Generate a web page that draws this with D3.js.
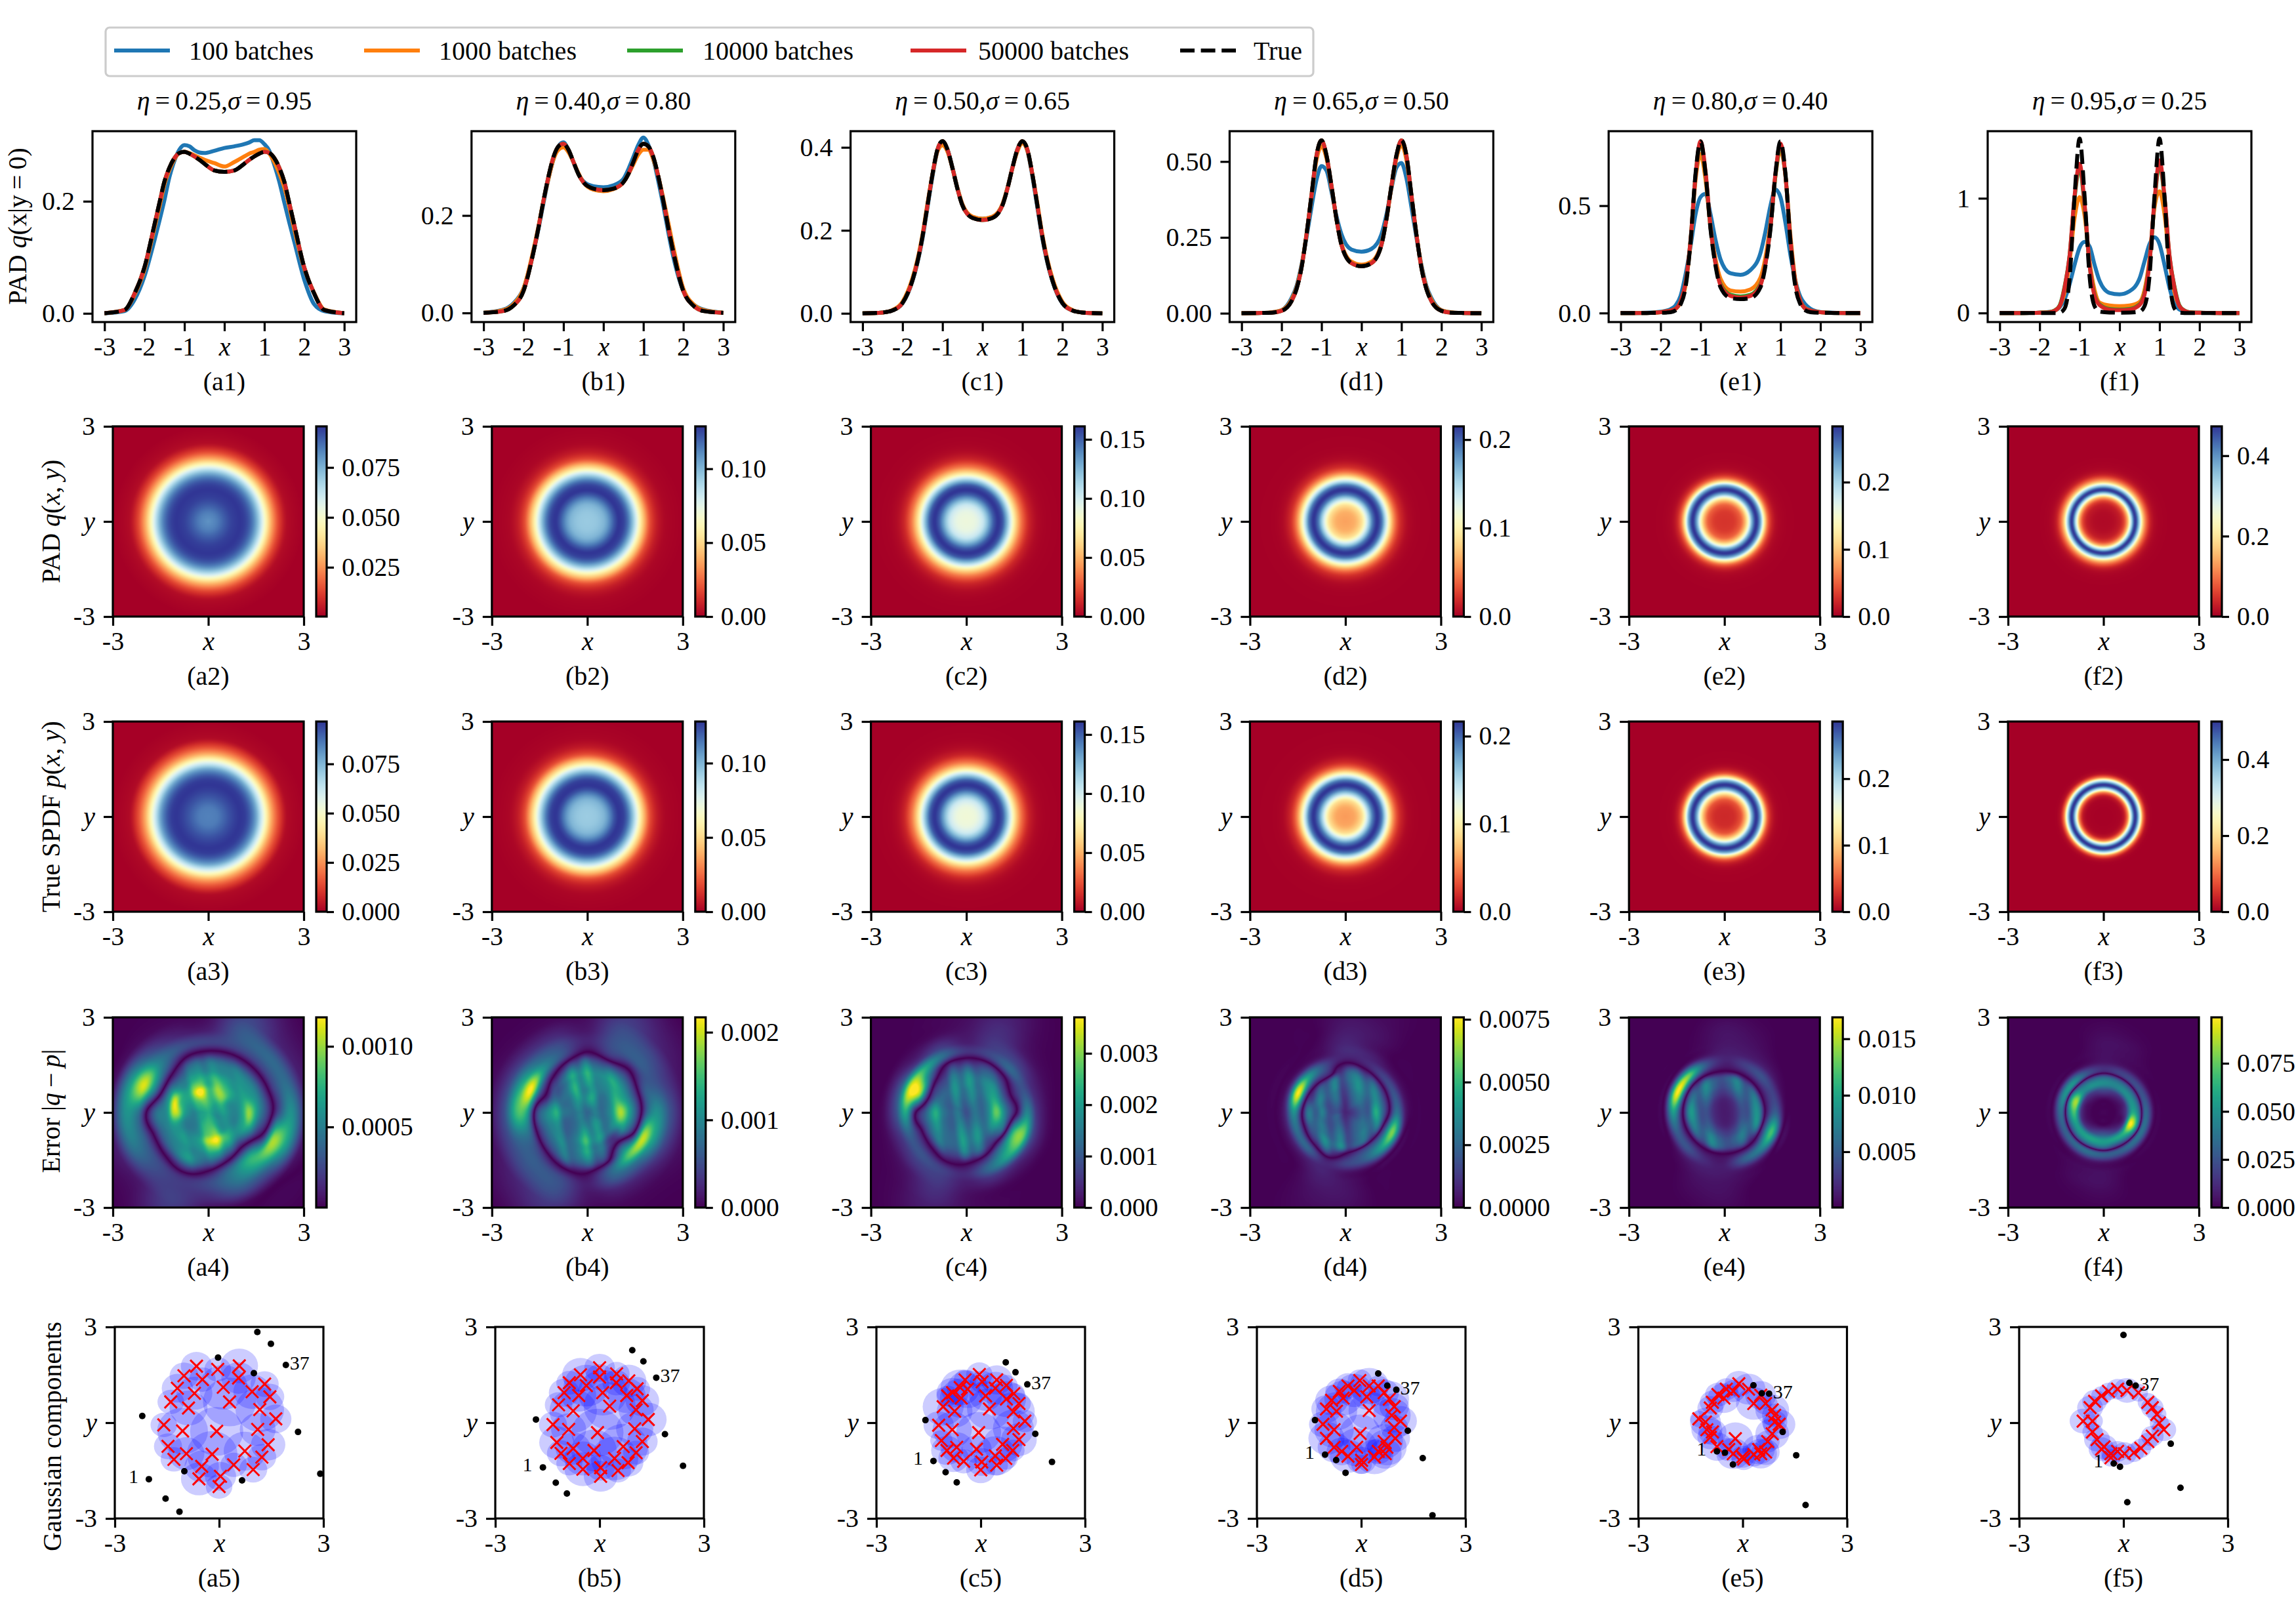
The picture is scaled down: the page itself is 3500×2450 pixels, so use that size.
<!DOCTYPE html>
<html>
<head>
<meta charset="utf-8">
<script src="https://cdn.jsdelivr.net/npm/d3@7"></script>
<style>
  body { margin: 0; background: #fff; }
  text { font-family: "Liberation Serif", serif; font-size: 40px; fill: #000; }
  .it { font-style: italic; }
</style>
</head>
<body>
<svg id="fig" width="3500" height="2450" xmlns="http://www.w3.org/2000/svg"></svg>
<script>
// values
const letters = ["a", "b", "c", "d", "e", "f"];
const etas = ["0.25", "0.40", "0.50", "0.65", "0.80", "0.95"];
const sigmas = ["0.95", "0.80", "0.65", "0.50", "0.40", "0.25"];
const legendNames = ["100 batches", "1000 batches", "10000 batches", "50000 batches", "True"];

// row 1: q(x|y=0) sampled at these x
const xs = [-3,-2.5,-2.25,-2,-1.75,-1.625,-1.5,-1.375,-1.25,-1.125,-1,-.875,-.75,-.625,-.5,-.25,0,.25,.5,.625,.75,.875,1,1.125,1.25,1.375,1.5,1.625,1.75,2,2.25,2.5,3];

const trueA = [.0003,.006,.035,.082,.158,.197,.235,.26,.277,.286,.288,.285,.28,.274,.267,.255,.2525,.255,.267,.274,.28,.285,.288,.286,.277,.26,.235,.197,.158,.082,.035,.006,.0003];
const trueB = [.0003,.004,.015,.045,.125,.175,.23,.28,.32,.342,.347,.335,.31,.285,.268,.255,.252,.255,.268,.285,.31,.335,.347,.342,.32,.28,.23,.175,.125,.045,.015,.004,.0003];
const trueC = [0,.002,.007,.025,.08,.125,.185,.26,.335,.395,.415,.395,.35,.3,.26,.23,.225,.23,.26,.3,.35,.395,.415,.395,.335,.26,.185,.125,.08,.025,.007,.002,0];
const trueD = [0,.001,.002,.008,.04,.08,.15,.26,.39,.52,.57,.52,.42,.31,.225,.165,.155,.165,.225,.31,.42,.52,.57,.52,.39,.26,.15,.08,.04,.008,.002,.001,0];
const trueE = [0,0,.0005,.001,.004,.012,.04,.12,.33,.65,.8,.65,.39,.22,.12,.07,.065,.07,.12,.22,.39,.65,.8,.65,.33,.12,.04,.012,.004,.001,.0005,0,0];
const trueF = [0,0,0,0,0,0,.003,.04,.3,1.02,1.52,1.02,.32,.06,.012,.004,.003,.004,.012,.06,.32,1.02,1.52,1.02,.3,.04,.003,0,0,0,0,0,0];

const blue100 = [
  [0,.004,.024,.066,.13,.165,.202,.243,.272,.292,.3,.298,.291,.287,.286,.29,.295,.298,.302,.305,.309,.309,.302,.29,.265,.235,.198,.162,.128,.06,.016,.004,0],
  [.0005,.007,.02,.05,.125,.172,.225,.275,.315,.342,.35,.335,.31,.285,.27,.26,.258,.262,.275,.295,.32,.345,.36,.345,.315,.27,.22,.165,.115,.045,.018,.007,.0005],
  [0,.002,.007,.024,.078,.122,.18,.255,.33,.392,.412,.395,.352,.302,.262,.232,.228,.232,.262,.302,.352,.395,.414,.392,.33,.255,.18,.122,.078,.024,.007,.002,0],
  [0,.001,.003,.01,.05,.09,.16,.25,.35,.44,.485,.47,.4,.32,.26,.21,.203,.212,.26,.325,.41,.48,.495,.445,.35,.25,.16,.09,.05,.01,.003,.001,0],
  [0,.0005,.002,.006,.018,.035,.08,.18,.31,.46,.54,.555,.46,.34,.25,.185,.178,.2,.28,.38,.5,.575,.54,.42,.27,.15,.075,.04,.02,.005,.002,.0005,0],
  [0,0,.001,.003,.01,.02,.05,.12,.25,.42,.57,.62,.58,.42,.28,.175,.163,.19,.3,.45,.6,.66,.6,.42,.22,.08,.03,.012,.005,.002,.001,0,0]
];
const orange1000 = [
  [.0003,.006,.033,.078,.152,.19,.23,.256,.275,.286,.288,.286,.282,.278,.274,.268,.262,.27,.28,.285,.288,.292,.293,.285,.27,.25,.225,.19,.15,.08,.036,.007,.0003],
  [.0005,.006,.018,.05,.13,.178,.23,.275,.315,.335,.34,.33,.31,.287,.268,.253,.25,.254,.268,.285,.305,.325,.335,.335,.315,.28,.235,.185,.135,.05,.018,.006,.0005],
  [0,.002,.008,.028,.085,.13,.19,.265,.335,.39,.405,.39,.35,.302,.263,.233,.228,.233,.263,.302,.35,.39,.41,.392,.335,.265,.19,.13,.085,.028,.008,.002,0],
  [0,.001,.003,.01,.045,.085,.155,.26,.385,.505,.55,.51,.415,.31,.23,.17,.16,.17,.23,.31,.415,.51,.555,.505,.385,.26,.155,.085,.045,.01,.003,.001,0],
  [0,.0005,.001,.004,.012,.02,.05,.13,.33,.62,.74,.62,.4,.25,.16,.105,.1,.11,.165,.26,.42,.64,.76,.64,.36,.15,.055,.022,.012,.004,.001,.0005,0],
  [0,0,.001,.003,.008,.02,.06,.18,.45,.83,1.01,.85,.45,.2,.09,.065,.06,.065,.095,.2,.47,.92,1.06,.86,.46,.18,.06,.018,.006,.002,.001,0,0]
];
const green10000 = [
  trueA, trueB, trueC, trueD,
  [0,.0003,.001,.004,.012,.02,.055,.14,.34,.64,.79,.65,.4,.23,.135,.085,.077,.085,.135,.23,.4,.64,.78,.64,.34,.14,.055,.02,.012,.004,.001,.0003,0],
  [0,0,.0005,.002,.007,.022,.065,.23,.5,1,1.27,.93,.42,.16,.075,.035,.03,.035,.075,.17,.44,.96,1.3,1,.5,.23,.065,.022,.007,.002,.0005,0,0]
];
const red50000 = [
  trueA, trueB, trueC, trueD,
  [0,.0003,.001,.004,.012,.02,.055,.14,.34,.64,.8,.66,.4,.23,.13,.08,.072,.08,.13,.23,.4,.65,.79,.64,.34,.14,.055,.02,.012,.004,.001,.0003,0],
  [0,0,.0005,.002,.006,.02,.06,.22,.5,1.02,1.3,.95,.42,.15,.07,.03,.025,.03,.07,.16,.44,.98,1.33,1.02,.5,.22,.06,.02,.006,.002,.0005,0,0]
];
const trueCurves = [trueA, trueB, trueC, trueD, trueE, trueF];

const yLimits1 = [[-.0155,.325],[-.0187,.373],[-.021,.439],[-.029,.6],[-.042,.847],[-.079,1.585]];
const yTicks1 = [["0.0","0.2"],["0.0","0.2"],["0.0","0.2","0.4"],["0.00","0.25","0.50"],["0.0","0.5"],["0","1"]];

// rows 2 and 3: density against radius, the fields are round
const radii = [0,.25,.5,.625,.75,.875,1,1.125,1.25,1.375,1.5,1.625,1.75,2,2.25,2.5,3];
const padRadial = [
  [.081,.084,.0895,.092,.094,.095,.0956,.0945,.0915,.086,.0775,.066,.0525,.0275,.011,.0025,.0002],
  [.094,.095,.0995,.1055,.1145,.1235,.1287,.1265,.1185,.104,.0855,.065,.0465,.017,.0057,.0016,.0001],
  [.089,.091,.102,.117,.136,.153,.161,.154,.131,.102,.073,.05,.032,.0105,.003,.0009,0],
  [.061,.065,.087,.118,.158,.197,.215,.197,.15,.101,.06,.033,.017,.004,.001,.0004,0],
  [.029,.031,.049,.083,.145,.232,.283,.232,.125,.052,.02,.007,.003,.0007,.0002,0,0],
  [.009,.011,.025,.055,.14,.32,.47,.34,.165,.075,.025,.008,.003,.0005,.0001,0,0]
];
const trueRadial = [
  [.0846,.0854,.0894,.0918,.0938,.0955,.0965,.0958,.0928,.0871,.0787,.066,.0529,.0275,.0117,.002,.0001],
  [.093,.0941,.0989,.1052,.1144,.1236,.128,.1262,.1181,.1033,.0849,.0646,.0461,.0166,.0055,.0015,.0001],
  [.0873,.0892,.1009,.1164,.1358,.1533,.161,.1533,.13,.1009,.0718,.0485,.031,.0097,.0027,.0008,0],
  [.059,.0627,.0855,.1178,.1596,.1976,.2167,.1976,.1482,.0988,.057,.0304,.0152,.003,.0008,.0004,0],
  [.0232,.025,.0429,.0787,.1394,.2324,.286,.2324,.118,.0429,.0143,.0043,.0014,.0004,.0001,0,0],
  [.001,.0013,.004,.02,.105,.336,.5,.336,.099,.013,.001,0,0,0,0,0,0]
];
const padRange = [[.0003,.0956],[0,.1287],[0,.161],[0,.215],[0,.283],[0,.473]];
const trueRange = [[0,.0965],[0,.128],[0,.161],[0,.2167],[0,.286],[0,.5]];
const padTicks = [["0.025","0.050","0.075"],["0.00","0.05","0.10"],["0.00","0.05","0.10","0.15"],["0.0","0.1","0.2"],["0.0","0.1","0.2"],["0.0","0.2","0.4"]];
const trueTicks = [["0.000","0.025","0.050","0.075"],["0.00","0.05","0.10"],["0.00","0.05","0.10","0.15"],["0.0","0.1","0.2"],["0.0","0.1","0.2"],["0.0","0.2","0.4"]];

// row 4: signed q-p, percent of the colour bar top, rows by radius, columns by angle (22.5 deg steps ccw from +x)
const errRadii = [0,.4,.7,.9,1.1,1.3,1.6,1.9,2.2,2.6,3.1,4.3];
const errorA = [
  [58,58,58,58,58,58,58,58,58,58,58,58,58,58,58,58],
  [55,60,66,72,72,75,66,58,50,50,52,60,66,64,58,52],
  [48,52,78,82,78,100,74,64,60,46,46,58,72,78,52,46],
  [48,52,68,76,68,78,68,72,78,46,48,62,86,96,58,46],
  [64,55,55,64,64,60,55,86,82,50,50,56,72,78,52,58],
  [80,55,50,50,50,48,42,50,48,45,45,48,55,50,30,60],
  [45,45,42,40,38,30,6,0,38,30,36,48,30,6,-12,22],
  [15,13,10,8,4,-3,-32,-55,6,-5,2,15,-5,-35,-60,-12],
  [-22,-20,-20,-20,-20,-25,-45,-95,-38,-32,-22,-14,-22,-42,-65,-85],
  [-50,-35,-33,-28,-8,-10,-25,-55,-50,-40,-22,-18,-15,-28,-30,-60],
  [-8,-8,-10,-22,-3,-2,-3,-4,-6,-8,-6,-18,-3,-2,-1,-6],
  [0,0,0,-3,0,0,0,0,0,0,0,-3,0,0,0,0]
];
const errorB = [
  [38,38,38,38,38,38,38,38,38,38,38,38,38,38,38,38],
  [38,38,42,50,55,50,42,38,35,35,35,38,45,50,45,38],
  [50,45,42,50,45,55,42,38,45,35,35,42,55,50,42,45],
  [65,55,48,50,50,55,42,42,52,38,35,45,60,50,42,55],
  [75,55,50,52,55,50,35,30,48,40,38,42,52,38,20,48],
  [58,48,50,50,55,48,28,12,42,38,38,40,50,32,6,38],
  [18,18,28,22,35,16,-8,-25,16,15,22,32,32,12,-42,0],
  [-35,-24,-3,-14,1,-22,-50,-100,-60,-30,-12,1,1,-30,-75,-88],
  [-50,-28,-28,-25,-10,-25,-38,-65,-70,-35,-28,-22,-8,-30,-38,-60],
  [-25,-18,-25,-25,-6,-12,-15,-22,-25,-22,-25,-25,-6,-10,-12,-22],
  [-4,-5,-10,-18,-3,-2,-2,-3,-4,-5,-10,-16,-3,-2,-2,-4],
  [0,0,0,-2,0,0,0,0,0,0,0,-2,0,0,0,0]
];
const errorC = [
  [30,30,30,30,30,30,30,30,30,30,30,30,30,30,30,30],
  [38,38,38,40,40,38,38,35,38,38,38,40,40,40,38,38],
  [45,42,42,45,45,45,42,40,45,40,40,45,48,48,45,45],
  [60,50,45,45,50,45,42,40,50,42,40,45,50,48,42,50],
  [50,40,42,45,48,40,30,22,42,38,36,42,46,40,26,38],
  [30,22,30,34,38,30,10,-8,26,26,28,30,36,26,4,18],
  [-4,-10,6,14,12,6,-35,-90,-2,-10,-4,6,2,-15,-45,-65],
  [-45,-25,-32,-20,-15,-35,-65,-100,-60,-30,-25,-18,-12,-35,-60,-80],
  [-15,-12,-20,-18,-8,-18,-15,-30,-25,-15,-18,-18,-8,-15,-15,-22],
  [-2,-3,-6,-14,-5,-3,-2,-3,-3,-3,-6,-14,-4,-2,-2,-3],
  [0,0,-2,-10,-3,-1,0,0,0,0,-2,-9,-3,-1,0,0],
  [0,0,0,-1,0,0,0,0,0,0,0,-1,0,0,0,0]
];
const errorD = [
  [18,18,18,18,18,18,18,18,18,18,18,18,18,18,18,18],
  [22,25,32,30,25,30,28,25,25,30,28,28,30,32,30,24],
  [30,30,35,38,32,35,35,30,35,28,30,35,38,35,32,32],
  [50,38,40,42,38,40,35,35,30,35,32,38,40,35,35,40],
  [38,35,38,40,42,32,24,24,42,34,38,42,40,30,24,32],
  [12,18,22,26,32,-9,-9,-3,12,10,18,26,0,-18,-22,-15],
  [-38,-25,-18,-8,-3,-22,-55,-100,-50,-35,-30,-8,-20,-30,-55,-80],
  [-6,-5,-5,-10,-12,-5,-8,-15,-10,-8,-8,-10,-5,-3,-3,-6],
  [0,0,0,-5,-10,-2,0,0,0,0,-1,-8,-5,0,0,0],
  [0,0,0,-5,-7,0,0,0,0,0,0,-5,-5,0,0,0],
  [0,0,0,-3,-4,0,0,0,0,0,0,-3,-3,0,0,0],
  [0,0,0,0,0,0,0,0,0,0,0,0,0,0,0,0]
];
const errorE = [
  [12,12,12,12,12,12,12,12,12,12,12,12,12,12,12,12],
  [15,15,15,15,15,15,15,15,15,15,15,15,15,15,15,15],
  [28,28,28,30,30,30,30,28,28,28,28,30,32,30,28,28],
  [42,38,35,38,38,40,38,35,40,38,38,40,42,40,35,42],
  [40,35,30,35,38,35,35,35,45,35,30,35,38,30,25,40],
  [-5,-3,-1,1,1,0,2,0,1,0,-1,1,1,-1,-3,-15],
  [-30,-20,-25,-18,-10,-30,-80,-100,-55,-30,-25,-12,-8,-30,-45,-70],
  [-2,-4,-8,-8,-8,-5,-8,-8,-3,-2,-6,-8,-7,-6,-5,-2],
  [0,0,-2,-5,-6,-2,0,0,0,0,-1,-5,-5,-2,0,0],
  [0,0,0,-3,-5,-1,0,0,0,0,0,-3,-4,0,0,0],
  [0,0,0,-1,-2,0,0,0,0,0,0,-1,-2,0,0,0],
  [0,0,0,0,0,0,0,0,0,0,0,0,0,0,0,0]
];
const errorF = [
  [1,1,1,1,1,1,1,1,1,1,1,1,1,1,1,1],
  [1,1,1,1,1,1,1,1,1,1,1,1,1,1,1,1],
  [15,12,14,18,22,18,15,15,14,12,16,24,28,22,15,14],
  [60,50,48,45,48,50,50,85,70,55,55,58,55,58,65,100],
  [40,32,30,32,35,30,30,55,40,30,32,32,35,25,35,60],
  [-32,-25,-22,-18,-12,-25,-50,-48,-35,-30,-32,-35,-30,-30,-35,-35],
  [-2,-2,-3,-4,-5,-3,-4,-3,-2,-2,-3,-5,-4,-3,-2,-2],
  [0,0,-1,-3,-4,-1,0,0,0,0,-1,-3,-4,-1,0,0],
  [0,0,0,-3,-4,0,0,0,0,0,0,-3,-4,0,0,0],
  [0,0,0,-1,-2,0,0,0,0,0,0,-1,-2,0,0,0],
  [0,0,0,0,0,0,0,0,0,0,0,0,0,0,0,0],
  [0,0,0,0,0,0,0,0,0,0,0,0,0,0,0,0]
];
const errorGrids = [errorA, errorB, errorC, errorD, errorE, errorF];
const errRange = [[0,.00118],[0,.00217],[0,.0037],[0,.00758],[.00006,.0169],[0,.0989]];
const errTicks = [["0.0005","0.0010"],["0.000","0.001","0.002"],["0.000","0.001","0.002","0.003"],["0.0000","0.0025","0.0050","0.0075"],["0.005","0.010","0.015"],["0.000","0.025","0.050","0.075"]];

// vertical stripes inside the contour, relative strength along x
const stripeXs = [-2,-1.75,-1.5,-1.25,-1,-.75,-.5,-.25,0,.25,.5,.75,1,1.25,1.5,1.75,2];
const stripes = [
  [1,1,1,1.05,1.1,.9,.85,1.05,1.05,.88,1.05,.95,.95,1.05,1,1,1],
  [1,1,1,1.05,1.25,.85,.95,1.2,.85,1.15,.85,.95,1.2,1.05,1,1,1],
  [1,1,1,1.05,1.3,.9,.75,1.15,.8,1.1,.8,1.1,1.3,1.05,1,1,1],
  [1,1,1,1.2,.85,1.25,.8,1.15,.55,.9,1.2,.85,1.3,1,1,1,1],
  [1,1,1,1,1.15,.8,1.2,.8,.6,.8,1.2,.8,1.15,1,1,1,1],
  [1,1,1,1,1,1,1,1,1,1,1,1,1,1,1,1,1]
];
const stripeTilt = [.26,.2,.15,.1,.1,0];

// row 5: component means. crosses carry weight, dots do not. first dot is no. 1, second no. 37
const dotsA = [[-2.02,-1.77],[1.92,1.81],[1.1,2.84],[1.49,2.47],[-.03,2.04],[1,1.55],[-2.21,.21],[2.27,-.29],[2.91,-1.6],[-1,-1.52],[.66,-1.81],[-1.54,-2.38],[-1.14,-2.79]];
const dotsB = [[-1.63,-1.4],[1.63,1.41],[.94,2.27],[1.26,1.92],[-1.83,.1],[1.88,-.36],[2.4,-1.35],[-1.26,-1.88],[-.94,-2.22]];
const dotsC = [[-1.36,-1.2],[1.34,1.2],[.72,1.89],[1,1.58],[-1.59,.08],[1.57,-.35],[2.05,-1.23],[-1.01,-1.55],[-.69,-1.87]];
const dotsD = [[-1.04,-1],[1.01,1.03],[.49,1.54],[.75,1.16],[-1.33,.08],[1.34,-.25],[1.77,-1.11],[-.72,-1.17],[-.45,-1.57],[2.05,-2.9]];
const dotsE = [[-.74,-.9],[.76,.91],[.31,1.17],[.55,.92],[1.15,-.29],[1.54,-1.02],[1.81,-2.58],[-.51,-.94],[-.28,-1.31]];
const dotsF = [[-.28,-1.28],[.35,1.16],[0,2.75],[.17,1.25],[1.36,-.66],[1.64,-2.04],[.11,-2.49],[-.1,-1.38]];
const allDots = [dotsA, dotsB, dotsC, dotsD, dotsE, dotsF];

const crossA = [[-.65,1.77],[-.04,1.67],[.58,1.78],[-1.01,1.47],[-.48,1.35],[.56,1.4],[1.31,1.21],[.12,1.11],[-1.2,1.08],[-.71,.92],[.95,.97],[1.46,.81],[-1.39,.65],[.3,.65],[-.88,.46],[1.17,.41],[1.63,.12],[-1.59,-.07],[-1.05,-.26],[-.07,-.27],[1.11,-.21],[1.41,-.69],[-1.47,-.74],[-.94,-.97],[.74,-.89],[-1.3,-1.15],[-.2,-.99],[1.23,-1.08],[.42,-1.32],[-.5,-1.37],[.98,-1.47],[-.58,-1.76],[.04,-1.68],[0,-2]];
const crossB = [[0,1.72],[.49,1.53],[-.55,1.5],[0,1.43],[-.87,1.25],[-.38,1.16],[.48,1.25],[.84,1.31],[-1.02,.94],[-.6,.85],[.09,.94],[.78,.85],[1.08,1.06],[1.23,.69],[-1.18,.56],[-.76,.37],[.29,.52],[1.05,.4],[1.4,.1],[-1.34,-.06],[-.89,-.21],[-.06,-.31],[1.01,-.19],[-1.23,-.62],[1.23,-.59],[-.76,-.81],[.68,-.75],[-1.11,-.96],[1.05,-.94],[-.16,-.87],[-.48,-1.12],[.43,-1.12],[.82,-1.25],[-.87,-1.28],[-.48,-1.46],[.03,-1.41],[.53,-1.5],[.03,-1.68]];
const crossC = [[-.04,1.51],[-.45,1.34],[.46,1.34],[.04,1.28],[.74,1.17],[-.59,1.1],[-.81,.94],[-.38,1.05],[.42,1.08],[-.95,.84],[-.56,.77],[.14,.84],[.95,.91],[.74,.74],[1.1,.6],[-1.08,.5],[-.75,.36],[.25,.43],[.94,.34],[1.27,.05],[-1.21,-.08],[-.82,-.22],[-.06,-.31],[.94,-.18],[1.1,-.53],[-1.13,-.56],[-.97,-.87],[-.69,-.77],[-.12,-.83],[.63,-.68],[.92,-.87],[-.78,-1.11],[-.49,-1.21],[.03,-1.23],[.42,-1.04],[.72,-1.12],[.46,-1.33],[0,-1.48]];
const crossD = [[-.04,1.32],[-.38,1.15],[.23,1.15],[.49,1.15],[-.63,.98],[-.2,1.01],[.66,.94],[-.52,.77],[-.85,.7],[.16,.81],[.81,.74],[-1,.43],[-.71,.36],[.23,.38],[.95,.5],[.88,.23],[1.13,.05],[-1.1,-.05],[-.78,-.22],[-.03,-.34],[.95,-.15],[-1,-.49],[.98,-.49],[.66,-.59],[-.78,-.77],[-.13,-.77],[.74,-.77],[-.56,-.9],[.49,-.9],[-.38,-1.05],[.01,-1.18],[.38,-1.07],[.69,-.97],[.01,-1.31]];
const crossE = [[-.11,1.22],[-.47,1.05],[.17,1.05],[-.71,.88],[-.27,.99],[.52,.86],[-.87,.64],[-.54,.77],[.32,.6],[.66,.6],[.85,.4],[-.93,.46],[-1.26,.12],[-1.07,.02],[.92,.02],[1.05,-.05],[-.87,-.29],[-.21,-.5],[.85,-.35],[-.93,-.46],[.72,-.59],[-.74,-.75],[-.4,-.84],[.46,-.84],[.66,-.92],[0,-1.07],[-.27,-.97],[.32,-1],[.03,-1.14],[-1.03,-.22],[.92,.23],[.52,-.97]];
const crossF = [[-.17,1.05],[-.43,.98],[.1,1.01],[-.63,.84],[.43,.94],[-.83,.67],[.7,.64],[-.96,.47],[.83,.47],[.96,.26],[-1.16,.05],[-.89,.05],[1.03,-.01],[1.16,-.22],[-.89,-.29],[-.76,-.53],[.83,-.42],[.7,-.59],[-.56,-.76],[.5,-.8],[-.36,-.97],[.03,-.97],[.3,-.94],[-.63,-.83],[-.17,-.9],[-.36,-1.1]];
const allCross = [crossA, crossB, crossC, crossD, crossE, crossF];
const discSpread = [.45,.44,.38,.35,.3,.24];
const discVary = [1,.85,1.2,.92,.85,1.1,.9,1.15];

// layout
const lineColors = ["#1f77b4", "#ff7f0e", "#2ca02c", "#d62728", "#000"];
const curveLeft = 141, curveStep = 577.8, curveW = 402;
const heatLeft = 172, heatStep = 577.8, heatW = 291;
const gaussLefts = [175, 755, 1336, 1916, 2497.5, 3078], gaussW = 318;
const rowTops = [200, 650, 1100, 1551, 2023];
const rowH = [291, 290, 290, 290, 292];
const frameW = 3.2, tickLen = 14;

const svg = d3.select("#fig");
svg.append("rect").attr("width", 3500).attr("height", 2450).attr("fill", "#fff");

function styleAxis(g) {
  g.select(".domain").remove();
  g.selectAll(".tick line").attr("stroke", "#000").attr("stroke-width", frameW);
  g.selectAll(".tick text").attr("fill", "#000").style("font-size", "40px");
  g.selectAll(".tick text").filter(d => d === 0 && g.classed("mathzero")).classed("it", true);
}

function frame(g, w, h) {
  g.append("rect").attr("width", w).attr("height", h)
    .attr("fill", "none").attr("stroke", "#000").attr("stroke-width", frameW);
}

function xAxis(g, x, h, ticks) {
  g.append("g").attr("class", "mathzero").attr("transform", `translate(0,${h})`)
    .call(d3.axisBottom(x).tickValues(ticks).tickSizeOuter(0).tickSize(tickLen).tickPadding(9)
      .tickFormat(d => d === 0 ? "x" : String(d)))
    .call(styleAxis);
}

function caption(g, w, h, label) {
  g.append("text").attr("x", w / 2).attr("y", h + 104).attr("text-anchor", "middle").text(label);
}

// text with italic parts, given as [string, italic?]
function mathText(sel, parts) {
  parts.forEach(p => sel.append("tspan").classed("it", !!p[1]).text(p[0]));
  return sel;
}

function yLabel(parts, x, y) {
  const t = svg.append("text").attr("text-anchor", "middle")
    .attr("transform", `translate(${x},${y}) rotate(-90)`);
  mathText(t, parts);
}

// monotone cubic through tabulated points
function monotoneLookup(px, py) {
  const n = px.length, d = [], m = new Array(n);
  for (let i = 0; i < n - 1; i++) d[i] = (py[i + 1] - py[i]) / (px[i + 1] - px[i]);
  m[0] = d[0]; m[n - 1] = d[n - 2];
  for (let i = 1; i < n - 1; i++) m[i] = d[i - 1] * d[i] <= 0 ? 0 : 2 * d[i - 1] * d[i] / (d[i - 1] + d[i]);
  return v => {
    if (v >= px[n - 1]) return py[n - 1];
    if (v <= px[0]) return py[0];
    const i = Math.max(0, d3.bisectRight(px, v) - 1);
    const h = px[i + 1] - px[i], t = (v - px[i]) / h;
    const t2 = t * t, t3 = t2 * t;
    return (2 * t3 - 3 * t2 + 1) * py[i] + (t3 - 2 * t2 + t) * h * m[i] + (-2 * t3 + 3 * t2) * py[i + 1] + (t3 - t2) * h * m[i + 1];
  };
}

function catmull(a, b, c, d, t) {
  return .5 * (2 * b + (c - a) * t + (2 * a - 5 * b + 4 * c - d) * t * t + (3 * b - a - 3 * c + d) * t * t * t);
}

// signed polar table -> signed percent
function polarLookup(grid) {
  const rIndex = d3.scaleLinear().domain(errRadii).range(d3.range(errRadii.length)).clamp(true);
  const nr = grid.length, na = grid[0].length;
  return (x, y) => {
    const r = Math.hypot(x, y);
    let th = Math.atan2(y, x);
    if (th < 0) th += 2 * Math.PI;
    const fa = th / (2 * Math.PI) * na, fr = rIndex(r);
    const ia = Math.floor(fa), ir = Math.min(nr - 2, Math.floor(fr));
    const ta = fa - ia, tr = fr - ir;
    const col = [];
    for (let k = -1; k <= 2; k++) {
      const row = grid[Math.max(0, Math.min(nr - 1, ir + k))];
      col.push(catmull(row[(ia + na - 1) % na], row[ia % na], row[(ia + 1) % na], row[(ia + 2) % na], ta));
    }
    return catmull(col[0], col[1], col[2], col[3], tr);
  };
}

function paint(g, w, h, fn) {
  const canvas = document.createElement("canvas");
  canvas.width = w; canvas.height = h;
  const ctx = canvas.getContext("2d");
  const img = ctx.createImageData(w, h);
  for (let j = 0; j < h; j++) for (let i = 0; i < w; i++) {
    const c = d3.rgb(fn(i + .5, j + .5)), k = 4 * (j * w + i);
    img.data[k] = c.r; img.data[k + 1] = c.g; img.data[k + 2] = c.b; img.data[k + 3] = 255;
  }
  ctx.putImageData(img, 0, 0);
  g.append("image").attr("width", w).attr("height", h).attr("href", canvas.toDataURL());
}

function heatPanel(col, row, field, range, labels, interp, label) {
  const h = rowH[row];
  const g = svg.append("g").attr("transform", `translate(${heatLeft + col * heatStep},${rowTops[row]})`);
  const x = d3.scaleLinear().domain([-3, 3]).range([0, heatW]);
  const y = d3.scaleLinear().domain([-3, 3]).range([h, 0]);
  const color = d3.scaleSequential(interp).domain(range);
  paint(g, heatW, h, (px, py) => color(field(x.invert(px), y.invert(py))));
  frame(g, heatW, h);
  xAxis(g, x, h, [-3, 0, 3]);
  g.append("g").attr("class", "mathzero")
    .call(d3.axisLeft(y).tickValues([-3, 0, 3]).tickSizeOuter(0).tickSize(tickLen).tickPadding(13)
      .tickFormat(d => d === 0 ? "y" : String(d)))
    .call(styleAxis);
  caption(g, heatW, h, label);

  // colour bar
  const barW = 16, barX = heatW + 19;
  const bar = g.append("g").attr("transform", `translate(${barX},0)`);
  const cb = d3.scaleLinear().domain(range).range([h, 0]);
  paint(bar, barW, h, (px, py) => color(cb.invert(py)));
  frame(bar, barW, h);
  bar.append("g").attr("transform", `translate(${barW},0)`)
    .call(d3.axisRight(cb).tickValues(labels.map(Number)).tickSizeOuter(0).tickSize(11).tickPadding(12)
      .tickFormat((d, i) => labels[i]))
    .call(styleAxis)
    .call(a => a.selectAll(".tick text").style("font-size", "39.5px"));
}

// legend
const legend = svg.append("g");
legend.append("rect").attr("x", 161).attr("y", 42).attr("width", 1841).attr("height", 74).attr("rx", 6)
  .attr("fill", "#fff").attr("stroke", "#ccc").attr("stroke-width", 3.2);
const legendLines = [174, 555, 956, 1388, 1799];
const legendTexts = [288, 669, 1071, 1491, 1911];
legendNames.forEach((name, i) => {
  legend.append("line").attr("x1", legendLines[i]).attr("x2", legendLines[i] + 85).attr("y1", 77).attr("y2", 77)
    .attr("stroke", lineColors[i]).attr("stroke-width", 6)
    .attr("stroke-dasharray", i === 4 ? "22 9.6" : null);
  legend.append("text").attr("x", legendTexts[i]).attr("y", 91).text(name);
});

// row 1
letters.forEach((letter, c) => {
  const h = rowH[0];
  const g = svg.append("g").attr("transform", `translate(${curveLeft + c * curveStep},${rowTops[0]})`);
  const x = d3.scaleLinear().domain([-3.3, 3.3]).range([0, curveW]);
  const y = d3.scaleLinear().domain(yLimits1[c]).range([h, 0]);
  const line = d3.line().x((d, i) => x(xs[i])).y(d => y(d)).curve(d3.curveMonotoneX);
  [blue100, orange1000, green10000, red50000, trueCurves].forEach((series, s) => {
    g.append("path").attr("d", line(series[c])).attr("fill", "none")
      .attr("stroke", lineColors[s]).attr("stroke-width", 6)
      .attr("stroke-dasharray", s === 4 ? "22 9.6" : null);
  });
  frame(g, curveW, h);
  xAxis(g, x, h, [-3, -2, -1, 0, 1, 2, 3]);
  const labels = yTicks1[c];
  g.append("g")
    .call(d3.axisLeft(y).tickValues(labels.map(Number)).tickSizeOuter(0).tickSize(tickLen).tickPadding(13)
      .tickFormat((d, i) => labels[i]))
    .call(styleAxis);
  caption(g, curveW, h, `(${letter}1)`);
  const title = g.append("text").attr("x", curveW / 2).attr("y", -33).attr("text-anchor", "middle");
  mathText(title, [["η", 1], ["\u2009=\u2009" + etas[c] + ","], ["σ", 1], ["\u2009=\u2009" + sigmas[c]]]);
});

// rows 2-4
letters.forEach((letter, c) => {
  const radial = table => {
    const f = monotoneLookup(radii, table[c]);
    return (x, y) => f(Math.hypot(x, y));
  };
  heatPanel(c, 1, radial(padRadial), padRange[c], padTicks[c], d3.interpolateRdYlBu, `(${letter}2)`);
  heatPanel(c, 2, radial(trueRadial), trueRange[c], trueTicks[c], d3.interpolateRdYlBu, `(${letter}3)`);
  const polar = polarLookup(errorGrids[c]);
  const stripe = monotoneLookup(stripeXs, stripes[c]);
  const top = errRange[c][1];
  const field = (x, y) => {
    const v = polar(x, y);
    return Math.abs(v > 0 ? v * stripe(x + stripeTilt[c] * y) : v) / 100 * top;
  };
  heatPanel(c, 3, field, errRange[c], errTicks[c], d3.interpolateViridis, `(${letter}4)`);
});

// row 5
letters.forEach((letter, c) => {
  const h = rowH[4];
  const g = svg.append("g").attr("transform", `translate(${gaussLefts[c]},${rowTops[4]})`);
  const x = d3.scaleLinear().domain([-3, 3]).range([0, gaussW]);
  const y = d3.scaleLinear().domain([-3, 3]).range([h, 0]);
  const s = discSpread[c];
  // inner components are the widest ones
  const discSize = (d, i) => {
    const r = Math.hypot(d[0], d[1]);
    return s * (r < .8 ? 1.7 : r < 1.25 ? 1.35 * discVary[i % 8] : discVary[i % 8]);
  };
  g.selectAll(".disc").data(allCross[c]).join("ellipse").attr("class", "disc")
    .attr("cx", d => x(d[0])).attr("cy", d => y(d[1]))
    .attr("rx", (d, i) => x(discSize(d, i)) - x(0))
    .attr("ry", (d, i) => y(0) - y(discSize(d, i)))
    .attr("fill", "#00f").attr("fill-opacity", .2);
  g.selectAll(".cross").data(allCross[c]).join("path").attr("class", "cross")
    .attr("transform", d => `translate(${x(d[0])},${y(d[1])})`)
    .attr("d", "M-9.5,-9.5L9.5,9.5M-9.5,9.5L9.5,-9.5")
    .attr("fill", "none").attr("stroke", "#f00").attr("stroke-width", 3);
  g.selectAll(".dot").data(allDots[c]).join("circle").attr("class", "dot")
    .attr("cx", d => x(d[0])).attr("cy", d => y(d[1])).attr("r", 5).attr("fill", "#000");
  const one = allDots[c][0], last = allDots[c][1];
  g.append("text").attr("x", x(one[0]) - 16).attr("y", y(one[1]) + 6).attr("text-anchor", "end").style("font-size", "30px").text("1");
  g.append("text").attr("x", x(last[0]) + 6).attr("y", y(last[1]) + 7).style("font-size", "30px").text("37");
  frame(g, gaussW, h);
  xAxis(g, x, h, [-3, 0, 3]);
  g.append("g").attr("class", "mathzero")
    .call(d3.axisLeft(y).tickValues([-3, 0, 3]).tickSizeOuter(0).tickSize(tickLen).tickPadding(13)
      .tickFormat(d => d === 0 ? "y" : String(d)))
    .call(styleAxis);
  caption(g, gaussW, h, `(${letter}5)`);
});

// row labels
yLabel([["PAD "], ["q", 1], ["(x|y\u2009=\u20090)"]], 40, 345);
yLabel([["PAD "], ["q", 1], ["("], ["x", 1], [", "], ["y", 1], [")"]], 91, 795);
yLabel([["True SPDF "], ["p", 1], ["("], ["x", 1], [", "], ["y", 1], [")"]], 91, 1245);
yLabel([["Error |"], ["q", 1], ["\u2009\u2212\u2009"], ["p", 1], ["|"]], 91, 1694);
yLabel([["Gaussian components"]], 93, 2190);
</script>
</body>
</html>
